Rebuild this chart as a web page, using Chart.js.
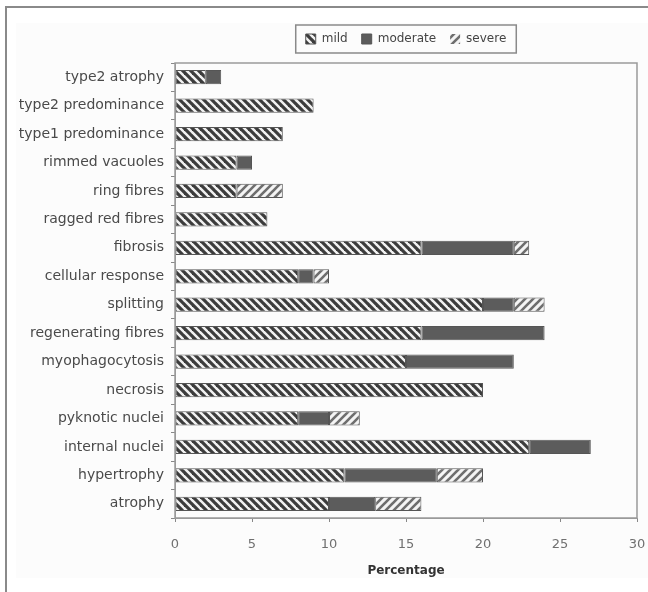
<!DOCTYPE html>
<html>
<head>
<meta charset="utf-8">
<script src="https://cdn.jsdelivr.net/npm/chart.js@4/dist/chart.umd.min.js"></script>
<style>
  html, body { margin: 0; padding: 0; background: #fff; }
  #wrap { position: relative; width: 648px; height: 592px; overflow: hidden; }
  #frame { position: absolute; left: 5px; top: 6px; width: 700px; height: 700px;
           border-left: 2px solid #8a8a8a; border-top: 2px solid #8a8a8a; }
  #inner { position: absolute; left: 16px; top: 23px; width: 632px; height: 555px; background: #fcfcfc; }
  canvas { position: absolute; left: 0; top: 0; }
</style>
</head>
<body>
<div id="wrap">
  <div id="frame"></div>
  <div id="inner"></div>
  <canvas id="c" width="648" height="592"></canvas>
</div>
<script>
const categories = [
  'type2 atrophy', 'type2 predominance', 'type1 predominance', 'rimmed vacuoles',
  'ring fibres', 'ragged red fibres', 'fibrosis', 'cellular response',
  'splitting', 'regenerating fibres', 'myophagocytosis', 'necrosis',
  'pyknotic nuclei', 'internal nuclei', 'hypertrophy', 'atrophy'
];
const mild     = [2, 9, 7, 4, 4, 6, 16, 8, 20, 16, 15, 20, 8, 23, 11, 10];
const moderate = [1, 0, 0, 1, 0, 0, 6, 1, 2, 8, 7, 0, 2, 4, 6, 3];
const severe   = [0, 0, 0, 0, 3, 0, 1, 1, 2, 0, 0, 0, 2, 0, 3, 3];
const xTicks   = [0, 5, 10, 15, 20, 25, 30];

function stripePattern(dir, fg, bg, size, lw) {
  const c = document.createElement('canvas');
  c.width = size; c.height = size;
  const g = c.getContext('2d');
  g.fillStyle = bg; g.fillRect(0, 0, size, size);
  g.strokeStyle = fg; g.lineWidth = lw; g.lineCap = 'square';
  for (let k = -1; k <= 1; k++) {
    g.beginPath();
    if (dir === 'back') { g.moveTo(k * size, 0); g.lineTo(k * size + size, size); }
    else { g.moveTo(k * size, size); g.lineTo(k * size + size, 0); }
    g.stroke();
  }
  return g.createPattern(c, 'repeat');
}
const mildFill = stripePattern('back', '#3c3c3c', '#f2f2f2', 8, 3.2);
const modFill = '#5c5c5c';
const sevFill = stripePattern('fwd', '#6e6e6e', '#f4f4f4', 8, 2.6);

const FONT = 'DejaVu Sans';

const legendExtra = {
  id: 'legendExtra',
  beforeInit(chart) {
    const lg = chart.legend;
    if (lg && !lg._patched) {
      const fit = lg.fit;
      lg.fit = function () { fit.call(this); this.height += 8; };
      lg._patched = true;
    }
  },
  afterDraw(chart) {
    const lg = chart.legend;
    if (!lg || !lg.legendHitBoxes || !lg.legendHitBoxes.length) return;
    const boxes = lg.legendHitBoxes;
    let l = Infinity, r = -Infinity, t = Infinity, b = -Infinity;
    boxes.forEach(h => { l = Math.min(l, h.left); r = Math.max(r, h.left + h.width); t = Math.min(t, h.top); b = Math.max(b, h.top + h.height); });
    const ctx = chart.ctx;
    ctx.save();
    ctx.strokeStyle = '#8a8a8a';
    ctx.lineWidth = 1.5;
    ctx.strokeRect(l - 10, t - 8, r - l + 20, b - t + 16);
    ctx.restore();
  }
};

const plotBorder = {
  id: 'plotBorder',
  afterDraw(chart) {
    const a = chart.chartArea, ctx = chart.ctx;
    ctx.save();
    ctx.strokeStyle = '#9a9a9a';
    ctx.lineWidth = 1.5;
    ctx.strokeRect(a.left, a.top, a.right - a.left, a.bottom - a.top);
    ctx.restore();
  }
};

const segBorder = c => (c.raw ? 1 : 0);

new Chart(document.getElementById('c'), {
  type: 'bar',
  data: {
    labels: categories,
    datasets: [
      { label: 'mild', data: mild, backgroundColor: mildFill, borderColor: '#555', borderWidth: segBorder, borderSkipped: false },
      { label: 'moderate', data: moderate, backgroundColor: modFill, borderColor: '#555', borderWidth: segBorder, borderSkipped: false },
      { label: 'severe', data: severe, backgroundColor: sevFill, borderColor: '#555', borderWidth: segBorder, borderSkipped: false }
    ]
  },
  options: {
    indexAxis: 'y',
    responsive: false,
    animation: false,
    devicePixelRatio: 1,
    layout: { padding: { left: 0, right: 0, top: 19, bottom: 0 } },
    datasets: { bar: { barPercentage: 0.5, categoryPercentage: 1.0 } },
    plugins: {
      tooltip: { enabled: false },
      legend: {
        position: 'top',
        fullSize: false,
        labels: {
          font: { family: FONT, size: 12 },
          color: '#444',
          boxWidth: 10, boxHeight: 10,
          padding: 14
        }
      }
    },
    scales: {
      x: {
        stacked: true,
        min: 0, max: 30,
        afterBuildTicks: s => { s.ticks = xTicks.map(v => ({ value: v })); },
        ticks: { font: { family: FONT, size: 13 }, color: '#707070', padding: 15 },
        grid: { drawOnChartArea: false, tickLength: 4, color: '#888' },
        border: { color: '#9a9a9a' },
        title: { display: true, text: 'Percentage', font: { family: FONT, size: 12, weight: 'bold' }, color: '#333', padding: { top: 4, bottom: 14 } },
        afterFit: s => { s.height = 74; s.paddingRight = 11; }
      },
      y: {
        stacked: true,
        ticks: { font: { family: FONT, size: 14 }, color: '#4a4a4a', padding: 7, autoSkip: false },
        grid: { offset: true, drawOnChartArea: false, tickLength: 4, color: '#888' },
        border: { color: '#9a9a9a' },
        afterFit: s => { s.width = 175; }
      }
    }
  },
  plugins: [legendExtra, plotBorder]
});
</script>
</body>
</html>
